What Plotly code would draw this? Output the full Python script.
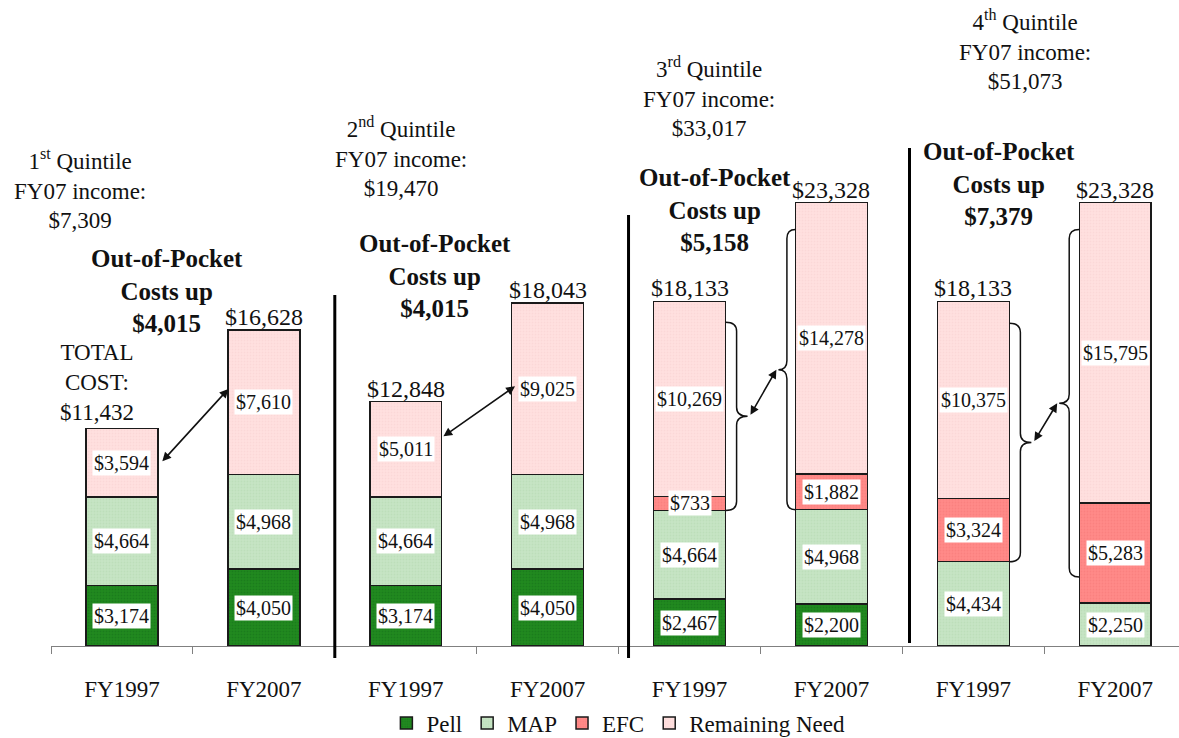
import plotly.graph_objects as go

# ---------------- data ----------------
categories = ["FY1997", "FY2007", "FY1997", "FY2007", "FY1997", "FY2007", "FY1997", "FY2007"]
pell = [3174, 4050, 3174, 4050, 2467, 2200, 0, 0]
map_aid = [4664, 4968, 4664, 4968, 4664, 4968, 4434, 2250]
efc = [0, 0, 0, 0, 733, 1882, 3324, 5283]
remaining_need = [3594, 7610, 5011, 9025, 10269, 14278, 10375, 15795]
total_cost = [11432, 16628, 12848, 18043, 18133, 23328, 18133, 23328]
quintile_names = ["1<sup>st</sup> Quintile", "2<sup>nd</sup> Quintile",
                  "3<sup>rd</sup> Quintile", "4<sup>th</sup> Quintile"]
fy07_income = [7309, 19470, 33017, 51073]
oop_increase = [4015, 4015, 5158, 7379]
series_names = ["Pell", "MAP", "EFC", "Remaining Need"]

# ---------------- styling / geometry ----------------
W, H = 1179, 738
L, B = 51, 92
PLOT_H = H - B
CAT_PX = 141.9
VAL_PX = 0.01901
FONT = "Liberation Serif, Times New Roman, serif"
colors = ["#21891f", "#c6e4c4", "#ff8a88", "#ffe0df"]
dots = ["#16701a", "#b3d8b0", "#f57876", "#f8cfcf"]


def xd(px):  # pixel -> category coordinate
    return (px - L) / CAT_PX - 0.5


def yd(py):  # pixel -> value coordinate
    return (PLOT_H - py) / VAL_PX


def yp(py):  # pixel -> paper coordinate
    return (PLOT_H - py) / PLOT_H


def money(v):
    return "${:,}".format(v)


xs = list(range(len(categories)))
series = [pell, map_aid, efc, remaining_need]

fig = go.Figure()
for name, vals, c, dc in zip(series_names, series, colors, dots):
    fig.add_trace(go.Bar(
        x=xs, y=vals, name=name, width=0.507,
        marker=dict(color=c, line=dict(color="#1a1a1a", width=1.5),
                    pattern=dict(shape=".", size=3, solidity=0.3, fgcolor=dc, bgcolor=c)),
        hoverinfo="skip",
    ))

annotations = []
# segment value labels in white boxes
bases = [0] * len(xs)
for vals in series:
    for i, v in enumerate(vals):
        if v > 0:
            annotations.append(dict(
                x=i, y=bases[i] + v / 2, text=money(v), showarrow=False,
                bgcolor="white", borderpad=1,
                font=dict(family=FONT, size=20, color="#111")))
        bases[i] += v

# totals above bars
for i, t in enumerate(total_cost):
    if i == 0:
        annotations.append(dict(
            x=i, y=t, text="TOTAL<br>COST:<br>" + money(t), showarrow=False,
            yanchor="bottom", xshift=-25, yshift=2,
            font=dict(family=FONT, size=23, color="#111")))
    else:
        annotations.append(dict(
            x=i, y=t, text=money(t), showarrow=False, yanchor="bottom", yshift=-2,
            font=dict(family=FONT, size=24, color="#111")))

# quintile captions and out-of-pocket captions
quint_pos = [(80, 189), (401, 157), (709, 97), (1025, 50)]
oop_pos = [(167, 291), (435, 276), (715, 210), (999, 184)]
for q in range(4):
    qx, qy = quint_pos[q]
    annotations.append(dict(
        x=xd(qx), y=yd(qy), text=quintile_names[q] + "<br>FY07 income:<br>" + money(fy07_income[q]),
        showarrow=False, font=dict(family=FONT, size=23, color="#111")))
    ox, oy = oop_pos[q]
    annotations.append(dict(
        x=xd(ox), y=yd(oy), text="<b>Out-of-Pocket<br>Costs up<br>" + money(oop_increase[q]) + "</b>",
        showarrow=False, font=dict(family=FONT, size=25, color="#111")))

# double-headed arrows between years
def mid_rn(i):
    return total_cost[i] - remaining_need[i] / 2

arrows = [
    (0.275, mid_rn(0), 0.75, mid_rn(1) + 700),
    (2.255, mid_rn(2) + 630, 2.77, mid_rn(3) + 130),
]
# braces (index, side, top value, bottom value, width px)
braces = [
    (4, 1, total_cost[4] - 1100, pell[4] + map_aid[4], 22),
    (5, -1, total_cost[5] - 1420, pell[5] + map_aid[5], 17),
    (6, 1, total_cost[6] - 1160, pell[6] + map_aid[6], 22),
    (7, -1, total_cost[7] - 1420, pell[7] + map_aid[7] + 0.26 * efc[7], 20),
]
shapes = []
half = 0.254
tips = []
for i, side, yt, yb, wpx in braces:
    x0 = i + side * half
    w = wpx / CAT_PX
    xm = x0 + side * w / 2
    xt = x0 + side * w
    ym = (yt + yb) / 2
    d = 9 / VAL_PX
    path = (f"M{x0},{yt} Q{xm},{yt} {xm},{yt - d} L{xm},{ym + d} Q{xm},{ym} {xt},{ym} "
            f"Q{xm},{ym} {xm},{ym - d} L{xm},{yb + d} Q{xm},{yb} {x0},{yb}")
    shapes.append(dict(type="path", path=path, xref="x", yref="y",
                       line=dict(color="#111", width=1.5)))
    tips.append((xt + side * 2 / CAT_PX, ym))
arrows.append((tips[0][0], tips[0][1], tips[1][0], tips[1][1]))
arrows.append((tips[2][0], tips[2][1], tips[3][0], tips[3][1]))

for (x0, y0, x1, y1) in arrows:
    annotations.append(dict(
        x=x1, y=y1, ax=x0, ay=y0, xref="x", yref="y", axref="x", ayref="y",
        text="", showarrow=True, arrowhead=2, arrowside="end+start",
        arrowsize=1.1, arrowwidth=1.6, arrowcolor="#111", standoff=0, startstandoff=0))

# vertical separators between quintiles
for sx, ytop, ybot in [(1.5, 295, 658), (3.57, 215, 658), (5.55, 148, 643)]:
    shapes.append(dict(type="line", xref="x", yref="paper", x0=sx, x1=sx,
                       y0=yp(ybot), y1=yp(ytop), line=dict(color="black", width=3)))

fig.update_layout(
    width=W, height=H, barmode="stack",
    margin=dict(l=L, r=0, t=0, b=B, autoexpand=False),
    paper_bgcolor="white", plot_bgcolor="white",
    font=dict(family=FONT, color="#111"),
    showlegend=True,
    legend=dict(orientation="h", x=0.503, xanchor="center", y=yp(723), yanchor="middle",
                traceorder="normal", font=dict(family=FONT, size=23, color="#111"),
                itemwidth=30, tracegroupgap=0),
    xaxis=dict(range=[-0.5, -0.5 + (W - L) / CAT_PX], tickvals=xs, ticktext=categories,
               ticks="", showline=True, linecolor="#808080", linewidth=1,
               showgrid=False, zeroline=False, ticklabelstandoff=22,
               tickfont=dict(family=FONT, size=23, color="#111"),
               minor=dict(tickmode="array", tickvals=[k - 0.5 for k in range(9)],
                          ticks="outside", ticklen=7, tickcolor="#808080", showgrid=False)),
    yaxis=dict(range=[0, PLOT_H / VAL_PX], visible=False, showgrid=False, zeroline=False),
    annotations=annotations, shapes=shapes,
)

fig.write_html(
    "out.html",
    config={"displayModeBar": False},
    post_script="document.body.style.margin='0';document.body.style.overflow='hidden';",
)
